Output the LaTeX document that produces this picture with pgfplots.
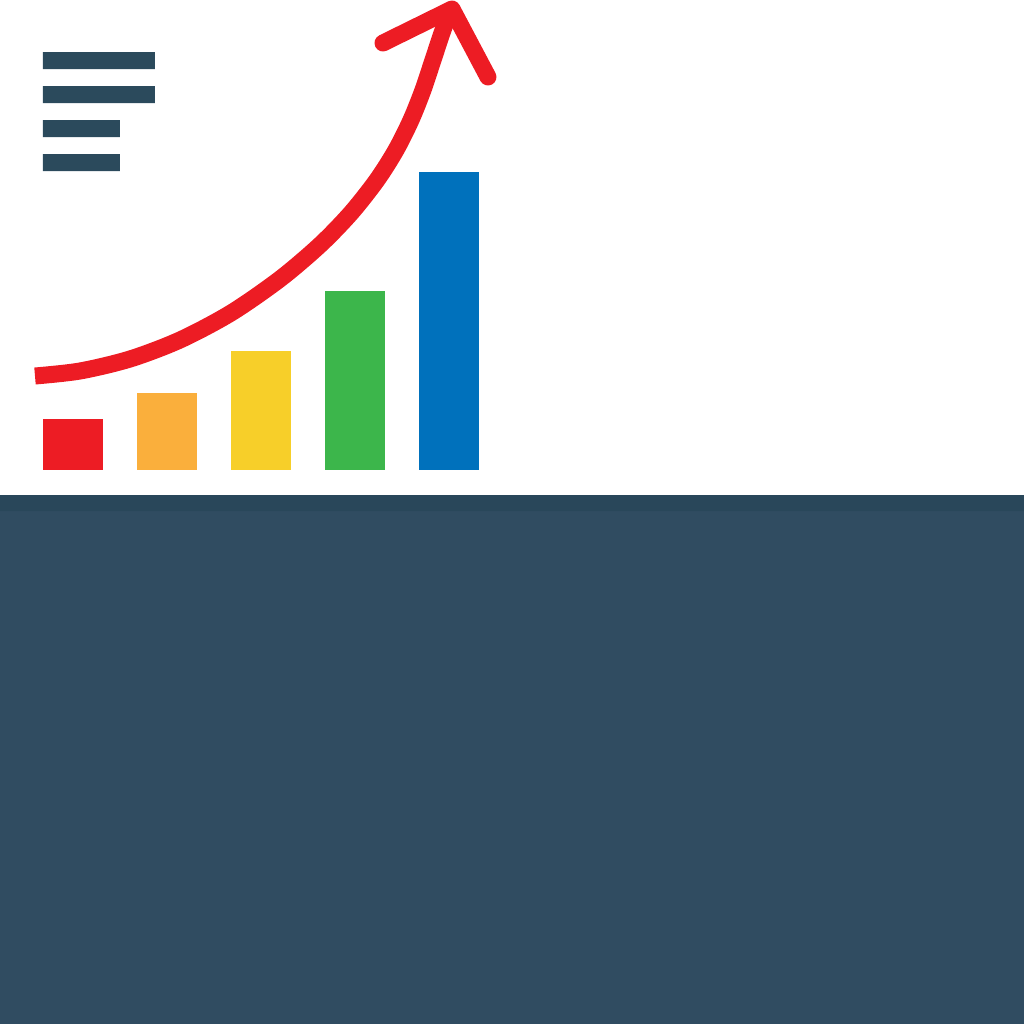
\documentclass[border=0pt]{standalone}
\usepackage{pgfplots}
\pgfplotsset{compat=1.18}

\definecolor{slate}{HTML}{304C61}
\definecolor{slatedark}{HTML}{29475A}
\definecolor{menu}{HTML}{2B4A5C}
\definecolor{cred}{HTML}{ED1C24}
\definecolor{corange}{HTML}{FAAF3C}
\definecolor{cyellow}{HTML}{F7CF29}
\definecolor{cgreen}{HTML}{3CB64B}
\definecolor{cblue}{HTML}{0071BC}

\pgfplotsset{
  growbar/.style={ybar, bar width=60, bar shift=0, draw=none},
  block/.style={fill=#1, draw=none, sharp plot, no markers},
}

\begin{document}
\begin{tikzpicture}
\begin{axis}[
    scale only axis,
    width=307.2pt, height=307.2pt,
    xmin=0, xmax=1024,
    ymin=-554, ymax=470,
    axis lines=none,
    ticks=none,
]
% ground
\addplot[block=slate] coordinates {(0,-25) (1024,-25) (1024,-554) (0,-554) (0,-25)};
\addplot[block=slatedark] coordinates {(0,-25) (1024,-25) (1024,-41) (0,-41) (0,-25)};
% menu lines
\addplot[block=menu] coordinates {(43,418) (155,418) (155,401) (43,401) (43,418)};
\addplot[block=menu] coordinates {(43,384) (155,384) (155,367) (43,367) (43,384)};
\addplot[block=menu] coordinates {(43,350) (120,350) (120,333) (43,333) (43,350)};
\addplot[block=menu] coordinates {(43,316) (120,316) (120,299) (43,299) (43,316)};
% bars
\addplot[growbar, fill=cred] coordinates {(73,51)};
\addplot[growbar, fill=corange] coordinates {(167,77)};
\addplot[growbar, fill=cyellow] coordinates {(261,119)};
\addplot[growbar, fill=cgreen] coordinates {(355,179)};
\addplot[growbar, fill=cblue] coordinates {(449,298)};
% growth curve
\addplot[draw=cred, line width=5.1pt, smooth, no markers, line cap=butt] coordinates {
  (35,94) (80,99) (130,111) (180,130) (231,157) (280,191) (320,225) (351,257)
  (377,290) (396,320) (411,350) (423,380) (433,410) (443,440) (451.5,462)};
\addplot[draw=cred, line width=5.1pt, sharp plot, no markers, line cap=round, line join=round] coordinates {
  (383,427) (452,461) (488,393)};
\end{axis}
\pgfresetboundingbox
\path (current axis.south west) rectangle (current axis.north east);
\end{tikzpicture}
\end{document}
